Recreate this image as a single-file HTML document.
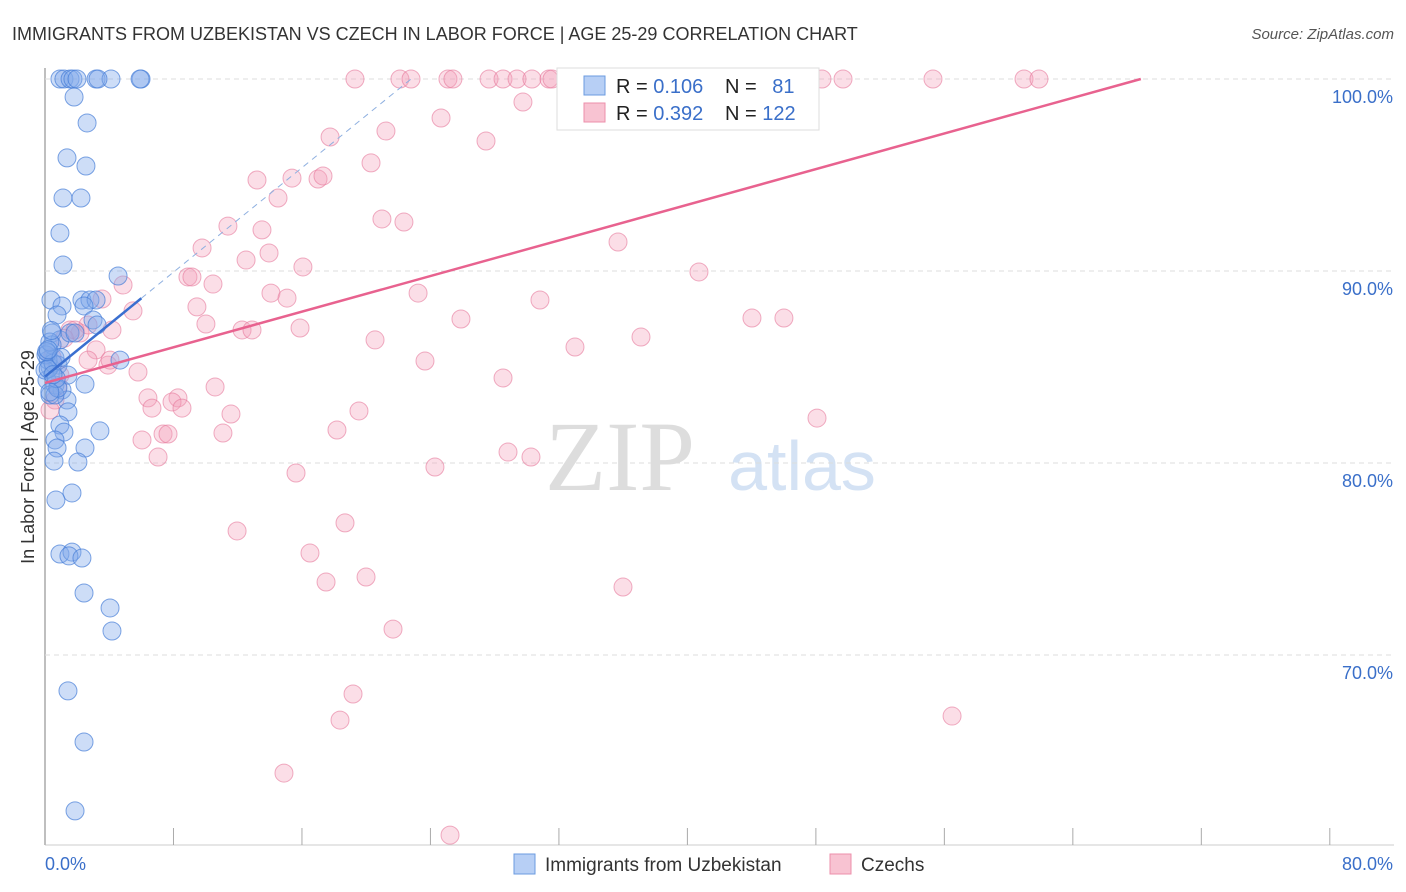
<!DOCTYPE html>
<html><head><meta charset="utf-8"><style>
body{margin:0;background:#fff;font-family:"Liberation Sans",sans-serif;}
svg{display:block}
</style></head><body>
<svg id="chart" width="1406" height="892">
<text x="12" y="40" font-size="18" fill="#333">IMMIGRANTS FROM UZBEKISTAN VS CZECH IN LABOR FORCE | AGE 25-29 CORRELATION CHART</text>
<text x="1394" y="39" font-size="15" fill="#555" font-style="italic" text-anchor="end">Source: ZipAtlas.com</text>
<text x="620" y="490" font-size="100" fill="#ddd" font-family="Liberation Serif" text-anchor="middle">ZIP</text>
<text x="802" y="490" font-size="70" fill="#d4e2f4" text-anchor="middle">atlas</text>
<text transform="translate(34,457) rotate(-90)" font-size="18" fill="#333" text-anchor="middle">In Labor Force | Age 25-29</text>
<g id="grid"></g><g id="pts"></g><g id="lines"></g>
<g>
<rect x="557" y="68" width="262" height="62" fill="#fff" stroke="#ddd"/>
<rect x="584" y="76" width="21" height="19" fill="#b7cff5" stroke="#6b9be0"/>
<rect x="584" y="103" width="21" height="19" fill="#f8c3d2" stroke="#ec8fab"/>
<text x="616" y="93" font-size="20" fill="#222">R = <tspan fill="#3a6fc9">0.106</tspan></text>
<text x="725" y="93" font-size="20" fill="#222">N = <tspan fill="#3a6fc9" dx="10">81</tspan></text>
<text x="616" y="120" font-size="20" fill="#222">R = <tspan fill="#3a6fc9">0.392</tspan></text>
<text x="725" y="120" font-size="20" fill="#222">N = <tspan fill="#3a6fc9">122</tspan></text>
</g>
<g>
<rect x="514" y="854" width="21" height="20" fill="#b7cff5" stroke="#6b9be0"/>
<text x="545" y="871" font-size="19" fill="#333">Immigrants from Uzbekistan</text>
<rect x="830" y="854" width="21" height="20" fill="#f8c3d2" stroke="#ec8fab"/>
<text x="861" y="871" font-size="19" fill="#333">Czechs</text>
</g>
</svg>
<script>
const blueX=[0.93,1.18,1.56,1.74,1.99,3.18,4.11,5.98,1.81,2.62,1.37,2.55,1.12,2.24,0.93,1.12,4.55,0.37,1.06,2.3,2.8,3.18,0.75,2.43,2.99,3.24,0.44,0.93,1.56,1.87,0.19,0.62,0.31,0.81,0.12,0.62,1.06,1.43,2.49,4.67,1.37,1.43,0.31,0.62,0.93,1.18,0.62,3.42,0.75,2.49,2.05,0.56,1.68,0.68,0.93,1.68,1.49,2.3,2.43,4.05,4.17,1.43,2.43,1.87,0.19,0.44,0.06,0.0,3.3,5.92,0.3,0.5,0.2,0.8,0.1,0.4,0.7,0.3,1.0,0.2,0.5];
const blueY=[100,100,100,100,100,100,100,100,99.06,97.71,95.89,95.47,93.8,93.8,91.98,90.31,89.74,88.49,88.18,88.49,88.49,88.49,87.71,88.18,87.45,87.19,86.77,86.41,86.77,86.77,85.73,85.47,85.0,85.1,84.32,84.06,83.8,84.58,84.11,85.36,83.28,82.66,83.54,83.54,81.98,81.61,81.2,81.67,80.78,80.78,80.05,80.1,78.44,78.07,75.26,75.36,75.16,75.05,73.23,72.45,71.25,68.13,65.47,61.88,85.36,86.15,85.63,84.84,100,100,86.3,85.2,84.9,83.9,85.8,86.9,84.4,83.7,85.5,85.9,84.6];
const pinkX=[19.3,22.1,22.79,25.09,25.4,27.65,28.52,29.39,30.32,31.38,31.57,33.31,37.55,38.42,40.78,41.53,44.52,45.45,46.82,47.51,48.38,49.69,55.29,60.96,61.89,29.76,24.66,21.23,17.75,27.46,20.3,13.2,15.38,17.0,17.31,14.51,11.39,20.98,22.35,13.51,9.78,12.52,13.95,35.68,16.06,8.9,9.15,10.46,4.86,40.72,14.07,15.07,23.23,30.82,3.55,9.46,5.48,10.02,12.27,12.89,15.88,25.9,44.02,46.01,4.17,2.18,1.56,33.0,37.11,20.55,23.66,3.18,2.68,3.92,5.79,28.52,10.59,6.41,8.28,7.91,6.66,8.53,11.58,19.55,48.07,11.08,6.04,7.35,7.66,18.18,28.83,30.26,7.04,24.28,15.63,11.96,18.68,16.5,19.99,17.5,35.99,21.67,19.18,18.37,56.48,14.88,25.22,0.62,0.93,0.31,0.44,2.68,1.87,4.05,34.5,35.2,42.6,43.5,1.2,0.8];
const pinkY=[100,100,100,100,100,100,100,100,100,100,100,100,100,100,100,100,100,100,100,100,100,100,100,100,100,98.8,97.97,97.29,96.98,96.77,95.63,94.74,94.84,94.79,94.95,93.8,92.34,92.71,92.55,92.14,91.2,90.57,90.94,91.51,90.21,89.69,89.69,89.32,89.27,89.95,88.85,88.59,88.85,88.49,88.54,88.13,87.92,87.24,86.93,86.93,87.03,87.5,87.55,87.55,86.93,86.77,86.93,86.04,86.56,86.41,85.31,85.89,85.36,85.1,84.74,84.43,83.96,83.39,83.39,83.18,82.86,82.86,82.55,82.71,82.34,81.56,81.2,81.51,81.51,81.72,80.57,80.31,80.31,79.79,79.48,76.46,76.88,75.31,74.06,73.8,73.54,71.35,67.97,66.61,66.82,63.85,60.62,83.28,84.58,82.76,85.5,87.19,86.93,85.36,100,100,100,100,86.5,84.0];
const yTicks=[100,90,80,70];
const yTickLabels=["100.0%","90.0%","80.0%","70.0%"];
const xTicks=[0,8,16,24,32,40,48,56,64,72,80];
const blueTrend=[84.5,0.68];  // intercept, slope
const pinkTrend=[84.17,0.232];
const NS="http://www.w3.org/2000/svg";
const sx=v=>45+v*16.06, sy=v=>79+(100-v)*19.2;
function mk(t,a,p){const e=document.createElementNS(NS,t);for(const k in a)e.setAttribute(k,a[k]);p.appendChild(e);return e;}
const grid=document.getElementById('grid');
mk('line',{x1:45,y1:68,x2:45,y2:845,stroke:'#aaa','stroke-width':1.5},grid);
mk('line',{x1:45,y1:845,x2:1394,y2:845,stroke:'#ccc'},grid);
yTicks.forEach((v,i)=>{
 const l=mk('line',{x1:45,y1:sy(v),x2:1394,y2:sy(v),stroke:'#ddd','stroke-dasharray':'5,4'},grid);
 
 
 const t=mk('text',{x:1393,y:sy(v)+24,'font-size':18,fill:'#3a6fc9','text-anchor':'end'},grid);
 t.textContent=yTickLabels[i];
 
 
});
xTicks.forEach(v=>{
 const l=mk('line',{x1:sx(v),y1:828,x2:sx(v),y2:845,stroke:'#aaa'},grid);
 
 
});
[[0,"0.0%",'start',45],[80,"80.0%",'end',1393]].forEach(d=>{
 const t=mk('text',{x:d[3],y:870,'font-size':18,fill:'#3a6fc9','text-anchor':d[2]},grid);
 t.textContent=d[1];
 
 
});
const pts=document.getElementById('pts');
pinkX.forEach((x,i)=>{
 const c=mk('circle',{cx:sx(x),cy:sy(pinkY[i]),r:9,fill:'rgba(244,160,187,0.35)',stroke:'rgba(230,120,155,0.6)'},pts);
 
 
});
blueX.forEach((x,i)=>{
 const c=mk('circle',{cx:sx(x),cy:sy(blueY[i]),r:9,fill:'rgba(130,170,235,0.4)',stroke:'rgba(70,125,215,0.7)'},pts);
 
 
});
const lines=document.getElementById('lines');
const bEnd=(100-blueTrend[0])/blueTrend[1];
let l=mk('line',{x1:sx(6),y1:sy(blueTrend[0]+6*blueTrend[1]),x2:sx(bEnd),y2:sy(100),stroke:'#8fb0e0','stroke-dasharray':'6,5'},lines);


l=mk('line',{x1:sx(0),y1:sy(blueTrend[0]),x2:sx(6),y2:sy(blueTrend[0]+6*blueTrend[1]),stroke:'#3a6fd0','stroke-width':2.5},lines);


const pEnd=(100-pinkTrend[0])/pinkTrend[1];
l=mk('line',{x1:sx(0),y1:sy(pinkTrend[0]),x2:sx(pEnd),y2:sy(100),stroke:'#e8628f','stroke-width':2.5},lines);


</script>
</body></html>
